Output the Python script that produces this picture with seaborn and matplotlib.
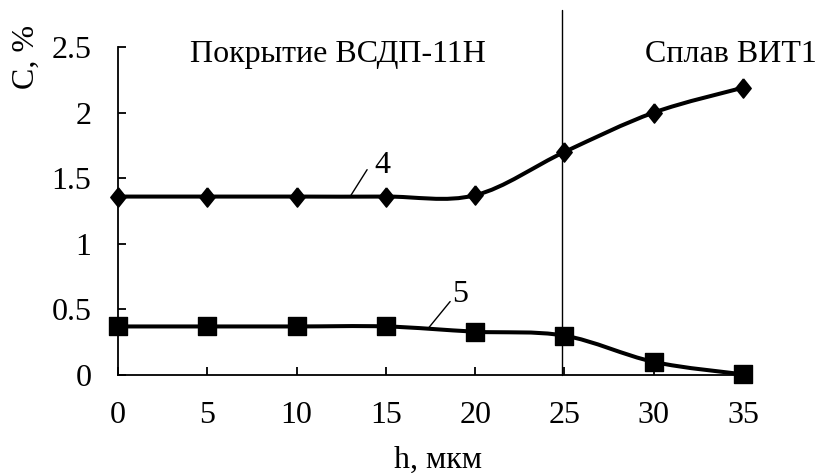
import numpy as np
import pandas as pd
import matplotlib
matplotlib.use("Agg")
import matplotlib.pyplot as plt
from matplotlib.path import Path
from matplotlib.patches import PathPatch
import seaborn as sns

# Depth profile data
depth = [0, 5, 10, 15, 20, 25, 30, 35]
c_curve4 = [1.36, 1.36, 1.36, 1.36, 1.37, 1.70, 2.00, 2.19]
c_curve5 = [0.37, 0.37, 0.37, 0.37, 0.33, 0.30, 0.10, 0.005]
x_ticks = [0, 5, 10, 15, 20, 25, 30, 35]
y_ticks = [0, 0.5, 1, 1.5, 2, 2.5]
y_tick_labels = ["0", "0.5", "1", "1.5", "2", "2.5"]
boundary_x = 24.85

sns.set_theme(style="white")
plt.rcParams["font.family"] = ["Liberation Serif", "DejaVu Serif"]

FS = 23

df4 = pd.DataFrame({"h": depth, "C": c_curve4})
df5 = pd.DataFrame({"h": depth, "C": c_curve5})

fig = plt.figure(figsize=(8.19, 4.73), dpi=100)
ax = fig.add_axes([118 / 819, 1 - 375 / 473, (743 - 118) / 819, (375 - 47) / 473])


def smooth_path(xs, ys):
    """Cubic Bezier path through the points (Catmull-Rom style tangents)."""
    pts = np.column_stack([xs, ys]).astype(float)
    n = len(pts)
    verts = [pts[0]]
    codes = [Path.MOVETO]
    for i in range(n - 1):
        p0 = pts[i - 1] if i > 0 else pts[i]
        p1 = pts[i]
        p2 = pts[i + 1]
        p3 = pts[i + 2] if i + 2 < n else pts[i + 1]
        c1 = p1 + (p2 - p0) / 6.0
        c2 = p2 - (p3 - p1) / 6.0
        verts += [c1, c2, p2]
        codes += [Path.CURVE4] * 3
    return Path(verts, codes)


for vals in (c_curve4, c_curve5):
    patch = PathPatch(smooth_path(depth, vals), facecolor="none",
                      edgecolor="black", lw=2.9, zorder=3,
                      capstyle="round", joinstyle="round")
    patch.set_clip_on(False)
    ax.add_patch(patch)

# slightly tall diamond marker
diamond = [(0, 1), (0.8, 0), (0, -1), (-0.8, 0), (0, 1)]

sns.scatterplot(data=df4, x="h", y="C", marker=diamond, color="black",
                edgecolor="black", s=190, legend=False, ax=ax, zorder=4,
                clip_on=False)
sns.scatterplot(data=df5, x="h", y="C", marker="s", color="black",
                edgecolor="black", s=150, legend=False, ax=ax, zorder=4,
                clip_on=False)
for coll in ax.collections:
    coll.set_clip_on(False)

ax.set_xlim(0, 35)
ax.set_ylim(0, 2.5)
ax.set_xticks(x_ticks)
ax.set_yticks(y_ticks)
ax.set_yticklabels(y_tick_labels)
ax.set_xlabel("")
ax.set_ylabel("")

for side in ("top", "right"):
    ax.spines[side].set_visible(False)
for side in ("left", "bottom"):
    ax.spines[side].set_color("black")
    ax.spines[side].set_linewidth(1.3)

ax.tick_params(axis="both", direction="in", length=6, width=1.3,
               colors="black", labelsize=FS, labelcolor="black")
ax.tick_params(axis="x", pad=19, bottom=True)
ax.tick_params(axis="y", pad=19, left=True)

# boundary between coating and alloy
ax.plot([boundary_x, boundary_x], [0, 2.78], color="black", lw=1.0,
        clip_on=False, zorder=2)

ax.text(12.3, 2.44, "Покрытие ВСДП-11Н", fontsize=FS, ha="center",
        va="center", color="black")
ax.text(34.3, 2.44, "Сплав ВИТ1", fontsize=FS, ha="center",
        va="center", color="black")

# curve labels with leader lines
ax.plot([13.0, 13.95], [1.36, 1.565], color="black", lw=1.0, zorder=2)
ax.text(14.8, 1.6, "4", fontsize=FS, ha="center", va="center", color="black")
ax.plot([17.4, 18.6], [0.36, 0.56], color="black", lw=1.0, zorder=2)
ax.text(19.15, 0.61, "5", fontsize=FS, ha="center", va="center", color="black")

fig.text(26 / 819, 1 - 57 / 473, "C, %", fontsize=FS, rotation=90,
         ha="center", va="center", color="black")
fig.text(438 / 819, 1 - 460 / 473, "h, мкм", fontsize=FS, ha="center",
         va="center", color="black")

fig.savefig("out.png", dpi=100, facecolor="white")
